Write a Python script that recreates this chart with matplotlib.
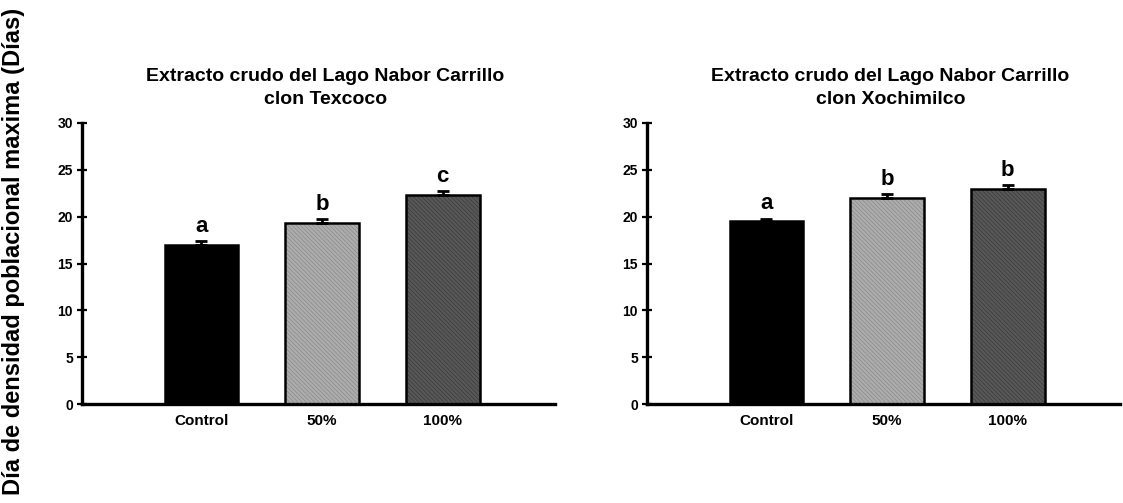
import matplotlib
matplotlib.use("Agg")
import matplotlib.pyplot as plt

plt.rcParams['font.family'] = ['Liberation Sans', 'DejaVu Sans']
plt.rcParams['hatch.linewidth'] = 0.5

categories = ["Control", "50%", "100%"]

title_line1 = "Extracto crudo del Lago Nabor Carrillo"
title_line2 = ["clon Texcoco", "clon Xochimilco"]

texcoco_means = [17.0, 19.3, 22.3]
texcoco_errs = [0.4, 0.4, 0.45]
texcoco_letters = ["a", "b", "c"]

xochimilco_means = [19.5, 22.0, 23.0]
xochimilco_errs = [0.3, 0.4, 0.4]
xochimilco_letters = ["a", "b", "b"]

yticks = [0, 5, 10, 15, 20, 25, 30]
ylabel = "Día de densidad poblacional maxima (Días)"

fill_colors = ["#000000", "#adadad", "#585858"]
hatch_colors = ["#000000", "#8a8a8a", "#3a3a3a"]

fig = plt.figure(figsize=(11.23, 5.03), dpi=100)
ax_w, ax_h = 473 / 1123, 281 / 503
ax_bottom = 99 / 503
axes = [fig.add_axes([82 / 1123, ax_bottom, ax_w, ax_h]),
        fig.add_axes([647 / 1123, ax_bottom, ax_w, ax_h])]

panels = [(texcoco_means, texcoco_errs, texcoco_letters),
          (xochimilco_means, xochimilco_errs, xochimilco_letters)]

for k, (ax, (means, errs, letters)) in enumerate(zip(axes, panels)):
    x = list(range(len(categories)))
    for i in x:
        ax.bar(i, means[i], width=0.61, color=fill_colors[i],
               edgecolor="none", linewidth=0, zorder=2)
        if i > 0:
            # fine texture in a slightly darker grey
            ax.bar(i, means[i], width=0.61, color="none",
                   edgecolor=hatch_colors[i], linewidth=0,
                   hatch="\\\\\\\\\\\\\\\\", zorder=3)
        ax.bar(i, means[i], width=0.61, color="none",
               edgecolor="black", linewidth=1.8, zorder=4)
    ax.errorbar(x, means, yerr=[[0] * len(means), errs], fmt="none",
                ecolor="black", elinewidth=2, capsize=4, capthick=2, zorder=5)
    for i in x:
        ax.annotate(letters[i], (i, means[i] + errs[i]), xytext=(0, 3),
                    textcoords="offset points", ha="center", va="bottom",
                    fontsize=16, fontweight="bold")

    ax.set_xlim(-0.99, 2.93)
    ax.set_ylim(0, 30)
    ax.set_yticks(yticks)
    ax.set_yticklabels([str(t) for t in yticks], fontsize=10, fontweight="bold")
    ax.set_xticks(x)
    ax.set_xticklabels(categories, fontsize=11, fontweight="bold")
    ax.tick_params(axis="y", direction="inout", length=7, width=1.6, pad=3)
    ax.tick_params(axis="x", length=0, pad=7)
    for side in ("top", "right"):
        ax.spines[side].set_visible(False)
    for side in ("left", "bottom"):
        ax.spines[side].set_linewidth(2.4)

    ax.text(0.515, 1.0 + 42 / 281, title_line1, transform=ax.transAxes,
            ha="center", va="baseline", fontsize=14, fontweight="bold")
    ax.text(0.515, 1.0 + 19 / 281, title_line2[k], transform=ax.transAxes,
            ha="center", va="baseline", fontsize=14, fontweight="bold")

fig.text(0.012, 0.5, ylabel, rotation=90, ha="center", va="center",
         fontsize=17, fontweight="bold")

fig.savefig("out.png", dpi=100)
